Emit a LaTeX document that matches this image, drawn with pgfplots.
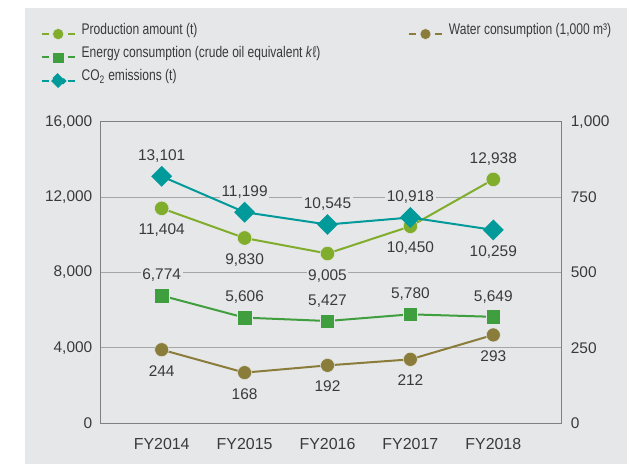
\documentclass[border=0pt]{standalone}
\usepackage{pgfplots}
\pgfplotsset{compat=1.18}
\usepackage{pgfplotstable}
\usepackage{fontspec}
\setmainfont{Liberation Sans}
\newfontfamily\legfont[FakeStretch=0.78]{Liberation Sans}

\definecolor{bg}{HTML}{E6E7E8}
\definecolor{cprod}{HTML}{80AD2C}
\definecolor{cen}{HTML}{3F9F3F}
\definecolor{cco}{HTML}{009A9A}
\definecolor{cwat}{HTML}{8A7C3A}
\definecolor{txt}{HTML}{3A3A3A}
\definecolor{framec}{HTML}{808080}
\definecolor{gridc}{HTML}{A6A6A6}

\pgfplotstableread{
x y
0 11404
1 9830
2 9005
3 10450
4 12938
}\prodtab
\pgfplotstableread{
x y
0 6774
1 5606
2 5427
3 5780
4 5649
}\entab
\pgfplotstableread{
x y
0 13101
1 11199
2 10545
3 10918
4 10259
}\cotab
\pgfplotstableread{
x y
0 244
1 168
2 192
3 212
4 293
}\wattab

\pgfplotsset{
  base/.style={
    scale only axis, width=461.2bp, height=301.6bp,
    at={(100.5bp,40.7bp)}, anchor=south west,
    xmin=-0.738, xmax=4.825, clip=false,
    major tick length=0pt, scaled y ticks=false,
    tick label style={font=\fontsize{15.5}{18}\selectfont, text=txt},
    /pgf/number format/fixed, /pgf/number format/precision=0,
    /pgf/number format/1000 sep={,},
    /pgf/number format/assume math mode=true,
    legend image code/.code={
      \draw[mark repeat=2, mark phase=2, dash pattern=on 7bp off 19bp on 7bp,
            every mark/.append style={scale=0.78}]
        plot coordinates {(0bp,0bp) (16.5bp,0bp) (33bp,0bp)};
    },
    legend style={draw=none, fill=none, inner sep=0pt, outer sep=0pt,
      font=\legfont\fontsize{15.5}{18}\selectfont, text=txt,
      nodes={inner sep=0pt, text height=11bp, text depth=3bp, anchor=base west},
      row sep=6.8bp,
      /tikz/every odd column/.append style={column sep=6bp}},
  },
  ser/.style={line width=2bp, mark options={solid, draw=bg, line width=0.5bp}},
  lbl/.style={forget plot, draw=none, mark=none, nodes near coords,
    every node near coord/.append style={font=\fontsize{15.5}{18}\selectfont,
      text=txt, fill=bg, inner sep=1.5bp}},
  above/.style={lbl, every node near coord/.append style={anchor=south, yshift=12bp}},
  below/.style={lbl, every node near coord/.append style={anchor=north, yshift=-14bp}},
}

\begin{document}
\begin{tikzpicture}
\useasboundingbox (0,0) rectangle (627bp,464bp);
\fill[white] (0,0) rectangle (627bp,464bp);
\fill[bg] (25bp,0) rectangle (627bp,456bp);

\begin{axis}[base,
  ymin=0, ymax=16000, ytick={0,4000,8000,12000,16000},
  ymajorgrids, grid style={gridc, line width=0.8bp},
  axis line style={framec, line width=1.3bp},
  xtick={0,1,2,3,4},
  xticklabels={FY2014,FY2015,FY2016,FY2017,FY2018},
  xtick pos=bottom, ytick pos=left,
  xticklabel style={font=\fontsize{16}{18}\selectfont, inner sep=0pt, anchor=north, yshift=-15bp},
  yticklabel style={inner sep=0pt, anchor=east, xshift=-8bp},
  legend style={at={(axis description cs:-0.1297,1.327)}, anchor=north west},
]
\addplot[ser, color=cprod, mark=*, mark size=7.2bp] table[x=x,y=y] {\prodtab};
\addlegendentry{Production amount (t)}
\addplot[ser, color=cen, mark=square*, mark size=7.2bp] table[x=x,y=y] {\entab};
\addlegendentry{Energy consumption (crude oil equivalent \textit{k}ℓ)}
\addplot[ser, color=cco, mark=square*, mark size=6.4bp, mark options={rotate=45}] table[x=x,y=y] {\cotab};
\addlegendentry{CO\textsubscript{2} emissions (t)}
% labels
\addplot[below, restrict x to domain=0:3] table[x=x,y=y] {\prodtab};
\addplot[above, restrict x to domain=4:4] table[x=x,y=y] {\prodtab};
\addplot[above] table[x=x,y=y] {\entab};
\addplot[above, restrict x to domain=0:3] table[x=x,y=y] {\cotab};
\addplot[below, restrict x to domain=4:4] table[x=x,y=y] {\cotab};
\end{axis}

\begin{axis}[base,
  ymin=0, ymax=1000, ytick={0,250,500,750,1000},
  axis x line=none, axis y line*=right,
  y axis line style={framec, line width=1.3bp},
  yticklabel style={inner sep=0pt, anchor=west, xshift=9bp},
  legend style={at={(axis description cs:0.6667,1.327)}, anchor=north west},
]
\addplot[ser, color=cwat, mark=*, mark size=7bp] table[x=x,y=y] {\wattab};
\addlegendentry{Water consumption (1,000 m³)}
\addplot[below] table[x=x,y=y] {\wattab};
\end{axis}
\end{tikzpicture}
\end{document}
